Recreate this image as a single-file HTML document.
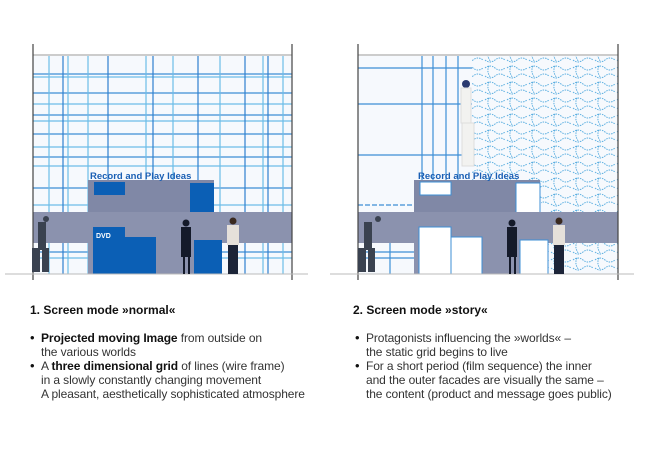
<!DOCTYPE html>
<html><head><meta charset="utf-8"><style>
body{margin:0;background:#fff;width:650px;height:450px;overflow:hidden;position:relative;font-family:"Liberation Sans",sans-serif;color:#222}
svg{position:absolute;left:0;top:0}
.t{position:absolute;font-size:12px;line-height:14px;color:#333;letter-spacing:-0.1px;white-space:nowrap}
.h{position:absolute;font-size:11.5px;font-weight:bold;color:#111}
.b{position:absolute;font-size:13px;line-height:14px;color:#111}
</style></head><body>
<svg width="650" height="450">
<defs>
<pattern id="wv" width="22" height="16" patternUnits="userSpaceOnUse">
<path d="M1 4 q5 -4 10 0 t10 0 M1 12 q5 4 10 0 t10 0 M5 2 q-3 6 2 12" stroke="#5aaee0" stroke-width="1" stroke-dasharray="1.5 1" fill="none"/>
</pattern>
</defs>
<rect x="33" y="55" width="259" height="219" fill="#f6f9fd"/>
<g stroke="#3d8fd6" stroke-width="1.2">
<line x1="33" x2="292" y1="74" y2="74"/><line x1="33" x2="292" y1="77" y2="77" stroke="#6cbde8"/>
<line x1="33" x2="292" y1="93" y2="93"/><line x1="33" x2="292" y1="104" y2="104" stroke="#6cbde8"/>
<line x1="33" x2="292" y1="115" y2="115"/><line x1="33" x2="292" y1="121" y2="121" stroke="#6cbde8"/>
<line x1="33" x2="292" y1="134" y2="134"/><line x1="33" x2="292" y1="147" y2="147" stroke="#6cbde8"/>
<line x1="33" x2="292" y1="157" y2="157"/><line x1="33" x2="292" y1="166" y2="166" stroke="#6cbde8"/>
<line x1="33" x2="292" y1="188" y2="188"/><line x1="33" x2="292" y1="205" y2="205" stroke="#6cbde8"/>
<line x1="33" x2="292" y1="252" y2="252"/><line x1="33" x2="292" y1="258" y2="258" stroke="#6cbde8"/>
</g>
<g stroke="#2f7fcf" stroke-width="1.2">
<line y1="55" y2="274" x1="49" x2="49" stroke="#6cbde8"/><line y1="55" y2="274" x1="63" x2="63"/><line y1="55" y2="274" x1="68" x2="68" stroke="#6cbde8"/>
<line y1="55" y2="274" x1="88" x2="88" stroke="#6cbde8"/><line y1="55" y2="274" x1="108" x2="108"/><line y1="55" y2="274" x1="146" x2="146" stroke="#6cbde8"/>
<line y1="55" y2="274" x1="153" x2="153"/><line y1="55" y2="274" x1="173" x2="173" stroke="#6cbde8"/><line y1="55" y2="274" x1="198" x2="198"/>
<line y1="55" y2="274" x1="220" x2="220" stroke="#6cbde8"/><line y1="55" y2="274" x1="245" x2="245"/><line y1="55" y2="274" x1="263" x2="263" stroke="#6cbde8"/>
<line y1="55" y2="274" x1="268" x2="268"/><line y1="55" y2="274" x1="283" x2="283" stroke="#6cbde8"/>
</g>
<rect x="33" y="54" width="259" height="2" fill="#ccc"/>
<rect x="88" y="180" width="126" height="32" fill="#8088a6"/>
<rect x="94" y="182" width="31" height="13" fill="#0b5fb5"/>
<rect x="190" y="183" width="24" height="30" fill="#0b5fb5"/>
<rect x="33" y="212" width="259" height="31" fill="#8b92ae"/>
<rect x="88" y="243" width="126" height="31" fill="#8b92ae"/>
<rect x="93" y="227" width="32" height="47" fill="#0b5fb5"/>
<rect x="125" y="237" width="31" height="37" fill="#0b5fb5"/>
<rect x="194" y="240" width="28" height="34" fill="#0b5fb5"/>
<text x="96" y="238" font-size="7" font-weight="bold" fill="#fff" font-family="Liberation Sans">DVD</text>
<text x="90" y="179" font-size="9.5" font-weight="bold" fill="#1a5fb4" font-family="Liberation Sans">Record and Play Ideas</text>
<line x1="33" y1="44" x2="33" y2="280" stroke="#444" stroke-width="1.2"/>
<line x1="292" y1="44" x2="292" y2="280" stroke="#444" stroke-width="1.2"/>
<line x1="5" y1="274" x2="308" y2="274" stroke="#bbb"/>
<g fill="#3a4250"><rect x="38" y="222" width="8" height="28"/><rect x="32" y="248" width="8" height="24"/><rect x="42" y="248" width="7" height="24"/><circle cx="46" cy="219" r="3"/></g>
<g fill="#141a2a"><circle cx="186" cy="223" r="3.5"/><rect x="181" y="227" width="10" height="30"/><rect x="183" y="257" width="2" height="17"/><rect x="188" y="257" width="2" height="17"/></g>
<g><circle cx="233" cy="221" r="3.5" fill="#3a2a20"/><rect x="227" y="225" width="12" height="20" fill="#e5e0da"/><rect x="228" y="245" width="10" height="29" fill="#1c2438"/></g>

<rect x="358" y="55" width="260" height="219" fill="#f6f9fd"/>
<rect x="472" y="55" width="146" height="145" fill="url(#wv)"/>
<rect x="541" y="200" width="77" height="12" fill="url(#wv)"/>
<rect x="540" y="243" width="78" height="31" fill="url(#wv)"/>
<g stroke="#3d8fd6" stroke-width="1.2">
<line x1="358" x2="472" y1="68" y2="68"/><line x1="358" x2="472" y1="104" y2="104"/>
<line x1="358" x2="472" y1="155" y2="155"/><line x1="358" x2="472" y1="205" y2="205" stroke-dasharray="5 2"/>
<line x1="358" x2="540" y1="252" y2="252"/><line x1="358" x2="540" y1="258" y2="258"/>
<line y1="55" y2="200" x1="422" x2="422"/><line y1="55" y2="200" x1="433" x2="433"/>
<line y1="55" y2="200" x1="446" x2="446"/><line y1="55" y2="200" x1="458" x2="458"/>
<line y1="243" y2="274" x1="390" x2="390"/>
</g>
<rect x="358" y="54" width="260" height="2" fill="#ccc"/>
<rect x="414" y="180" width="126" height="32" fill="#8088a6"/>
<rect x="420" y="182" width="31" height="13" fill="#fff" stroke="#3d8fd6"/>
<rect x="516" y="183" width="24" height="30" fill="#fff" stroke="#3d8fd6"/>
<rect x="358" y="212" width="260" height="31" fill="#8b92ae"/>
<rect x="414" y="243" width="126" height="31" fill="#8b92ae"/>
<rect x="419" y="227" width="32" height="47" fill="#fff" stroke="#3d8fd6"/>
<rect x="451" y="237" width="31" height="37" fill="#fff" stroke="#3d8fd6"/>
<rect x="520" y="240" width="28" height="34" fill="#fff" stroke="#3d8fd6"/>
<text x="418" y="179" font-size="9.5" font-weight="bold" fill="#1a5fb4" font-family="Liberation Sans">Record and Play Ideas</text>
<line x1="358" y1="44" x2="358" y2="280" stroke="#444" stroke-width="1.2"/>
<line x1="618" y1="44" x2="618" y2="280" stroke="#444" stroke-width="1.2"/>
<line x1="330" y1="274" x2="634" y2="274" stroke="#bbb"/>
<g fill="#3a4250"><rect x="364" y="222" width="8" height="28"/><rect x="358" y="248" width="8" height="24"/><rect x="368" y="248" width="7" height="24"/><circle cx="378" cy="219" r="3"/></g>
<g fill="#141a2a"><circle cx="512" cy="223" r="3.5"/><rect x="507" y="227" width="10" height="30"/><rect x="509" y="257" width="2" height="17"/><rect x="514" y="257" width="2" height="17"/></g>
<g><circle cx="559" cy="221" r="3.5" fill="#3a2a20"/><rect x="553" y="225" width="12" height="20" fill="#e5e0da"/><rect x="554" y="245" width="10" height="29" fill="#1c2438"/></g>
<g><circle cx="466" cy="84" r="4" fill="#2a3a70"/><rect x="461" y="88" width="10" height="35" fill="#f2f2f0" stroke="#ddd"/><rect x="462" y="123" width="12" height="43" fill="#f2f2f0" stroke="#ddd"/></g>
</svg>
<div class="h" style="left:30px;top:303px;font-size:12px">1. Screen mode »normal«</div>
<div class="t" style="left:41px;top:331px"><b style="color:#111">Projected moving Image</b> from outside on<br>the various worlds<br>A <b style="color:#111">three dimensional grid</b> of lines (wire frame)<br>in a slowly constantly changing movement<br>A pleasant, aesthetically sophisticated atmosphere</div>
<div class="b" style="left:30px;top:331px">•</div><div class="b" style="left:30px;top:359px">•</div>
<div class="h" style="left:353px;top:303px;font-size:12px">2. Screen mode »story«</div>
<div class="t" style="left:366px;top:331px">Protagonists influencing the »worlds« –<br>the static grid begins to live<br>For a short period (film sequence) the inner<br>and the outer facades are visually the same –<br>the content (product and message goes public)</div>
<div class="b" style="left:355px;top:331px">•</div><div class="b" style="left:355px;top:359px">•</div>
</body></html>
